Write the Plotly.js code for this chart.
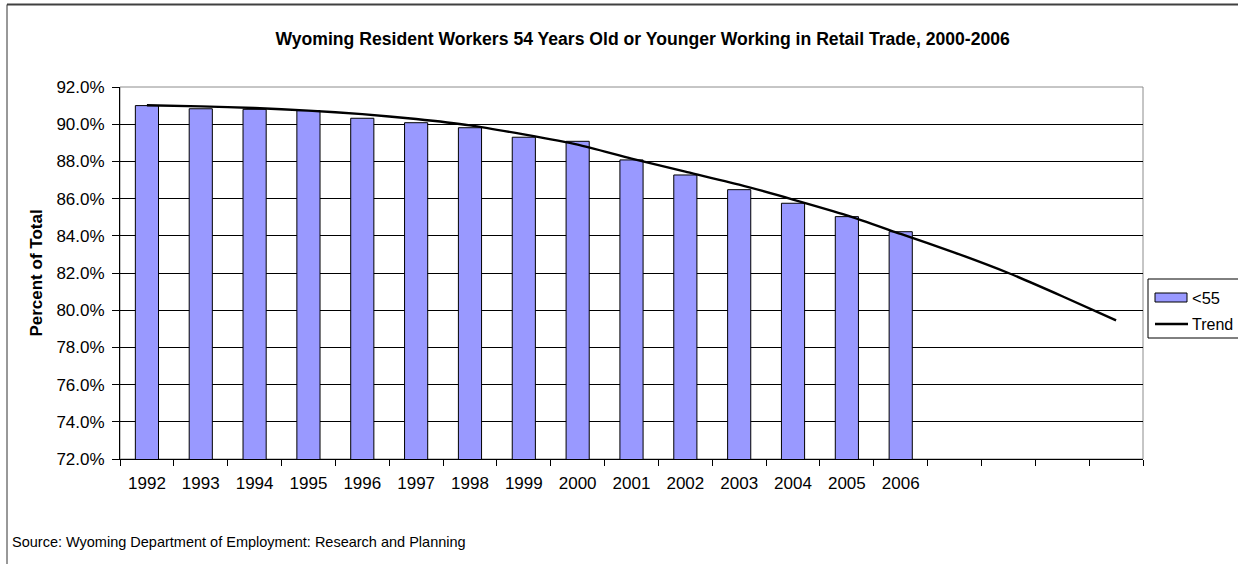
<!DOCTYPE html>
<html>
<head>
<meta charset="utf-8">
<script src="https://cdn.plot.ly/plotly-3.0.1.min.js"></script>
<style>
  html, body { margin: 0; padding: 0; background: #fff; }
  #chart { width: 1238px; height: 564px; }
</style>
</head>
<body>
<div id="chart"></div>
<script>
// Share of Wyoming resident retail-trade workers aged 54 or younger
const barYears = [1992, 1993, 1994, 1995, 1996, 1997, 1998, 1999, 2000, 2001, 2002, 2003, 2004, 2005, 2006];
const under55 = [91.0, 90.83, 90.8, 90.73, 90.32, 90.08, 89.81, 89.3, 89.08, 88.08, 87.27, 86.48, 85.75, 85.03, 84.22];

// Trend line, projected four years past the last observation
const trendYears = [1992, 1993, 1994, 1995, 1996, 1997, 1998, 1999, 2000, 2001, 2002, 2003, 2004, 2005, 2006, 2007, 2008, 2009, 2010];
const trendValues = [91.02, 90.96, 90.87, 90.73, 90.54, 90.28, 89.94, 89.45, 88.9, 88.15, 87.45, 86.75, 85.95, 85.1, 84.1, 83.1, 82.0, 80.75, 79.45];

const yTicks = [72, 74, 76, 78, 80, 82, 84, 86, 88, 90, 92];

// Category boundaries, where the x-axis tick marks sit
const boundaries = [trendYears[0] - 0.5].concat(trendYears.map(y => y + 0.5));

const FONT = 'Liberation Sans, Arial, sans-serif';

// Plot area in pixels: used to place decorations outside it in paper units
const L = 120, R = 1143, T = 87, B = 459;
const px = x => (x - L) / (R - L);
const py = y => (B - y) / (B - T);

const traces = [
  {
    type: 'bar',
    name: '<55',
    x: barYears,
    y: under55,
    width: 0.43,
    marker: { color: '#9999FF', line: { color: '#000000', width: 1 } },
    hovertemplate: '%{x}: %{y:.1f}%<extra></extra>'
  },
  {
    type: 'scatter',
    mode: 'lines',
    name: 'Trend',
    x: trendYears,
    y: trendValues,
    line: { color: '#000000', width: 2.4, shape: 'spline', smoothing: 0.6 },
    hovertemplate: '%{x}: %{y:.1f}%<extra></extra>'
  }
];

const layout = {
  width: 1238,
  height: 564,
  margin: { l: L, r: 1238 - R, t: T, b: 564 - B },
  paper_bgcolor: '#ffffff',
  plot_bgcolor: '#ffffff',
  showlegend: false,
  font: { family: FONT, color: '#000000', size: 17 },
  title: {
    text: '<b>Wyoming Resident Workers 54 Years Old or Younger Working in Retail Trade, 2000-2006</b>',
    font: { family: FONT, size: 17.6, color: '#000000' },
    x: 632.5 / 1238, xanchor: 'center', xref: 'paper',
    y: 1 - 38.5 / 564, yanchor: 'middle', yref: 'container'
  },
  xaxis: {
    type: 'linear',
    range: [boundaries[0], boundaries[boundaries.length - 1]],
    tickmode: 'array',
    tickvals: barYears,
    ticktext: barYears.map(String),
    ticks: '',
    ticklabelstandoff: 9,
    showgrid: false,
    zeroline: false,
    showline: true,
    linecolor: '#000000',
    linewidth: 1,
    tickfont: { family: FONT, size: 17 },
    minor: {
      tickmode: 'array',
      tickvals: boundaries,
      ticks: 'outside',
      ticklen: 6,
      tickcolor: '#000000',
      tickwidth: 1,
      showgrid: false
    },
    fixedrange: true
  },
  yaxis: {
    range: [72, 92],
    tickmode: 'array',
    tickvals: yTicks,
    ticktext: yTicks.map(v => v.toFixed(1) + '%'),
    ticks: 'outside',
    ticklen: 7,
    tickcolor: '#000000',
    ticklabelstandoff: 4,
    showgrid: true,
    gridcolor: '#000000',
    gridwidth: 1,
    zeroline: false,
    showline: true,
    linecolor: '#000000',
    linewidth: 1,
    tickfont: { family: FONT, size: 17 },
    title: {
      text: '<b>Percent of Total</b>',
      font: { family: FONT, size: 17 },
      standoff: 9
    },
    fixedrange: true
  },
  shapes: [
    // plot area frame
    { type: 'rect', xref: 'paper', yref: 'paper', x0: 0, x1: 1, y0: 0, y1: 1,
      line: { color: '#8c8c8c', width: 1 }, layer: 'below' },
    // chart area frame
    { type: 'line', xref: 'paper', yref: 'paper', x0: px(7), x1: px(1245), y0: py(4.5), y1: py(4.5),
      line: { color: '#404040', width: 2 } },
    { type: 'line', xref: 'paper', yref: 'paper', x0: px(7), x1: px(7), y0: py(4.5), y1: py(580),
      line: { color: '#333333', width: 1 } },
    // legend box
    { type: 'rect', xref: 'paper', yref: 'paper', x0: px(1148), x1: px(1245), y0: py(338), y1: py(279),
      line: { color: '#000000', width: 1 }, fillcolor: '#ffffff' },
    // legend swatch for the bars
    { type: 'rect', xref: 'paper', yref: 'paper', x0: px(1155), x1: px(1187), y0: py(302), y1: py(293),
      line: { color: '#000000', width: 1 }, fillcolor: '#9999FF' },
    // legend sample for the trend line
    { type: 'line', xref: 'paper', yref: 'paper', x0: px(1155), x1: px(1188), y0: py(324), y1: py(324),
      line: { color: '#000000', width: 2.4 } }
  ],
  annotations: [
    { xref: 'paper', yref: 'paper', x: px(1190), y: py(297.5), xanchor: 'left', yanchor: 'middle',
      text: '&lt;55', showarrow: false, font: { family: FONT, size: 16.5 } },
    { xref: 'paper', yref: 'paper', x: px(1190), y: py(324), xanchor: 'left', yanchor: 'middle',
      text: 'Trend', showarrow: false, font: { family: FONT, size: 16 } },
    { xref: 'paper', yref: 'paper', x: px(10), y: py(542), xanchor: 'left', yanchor: 'middle',
      text: 'Source: Wyoming Department of Employment: Research and Planning', showarrow: false,
      font: { family: FONT, size: 14.5 } }
  ]
};

Plotly.newPlot('chart', traces, layout, { staticPlot: true, displayModeBar: false });
</script>
</body>
</html>
